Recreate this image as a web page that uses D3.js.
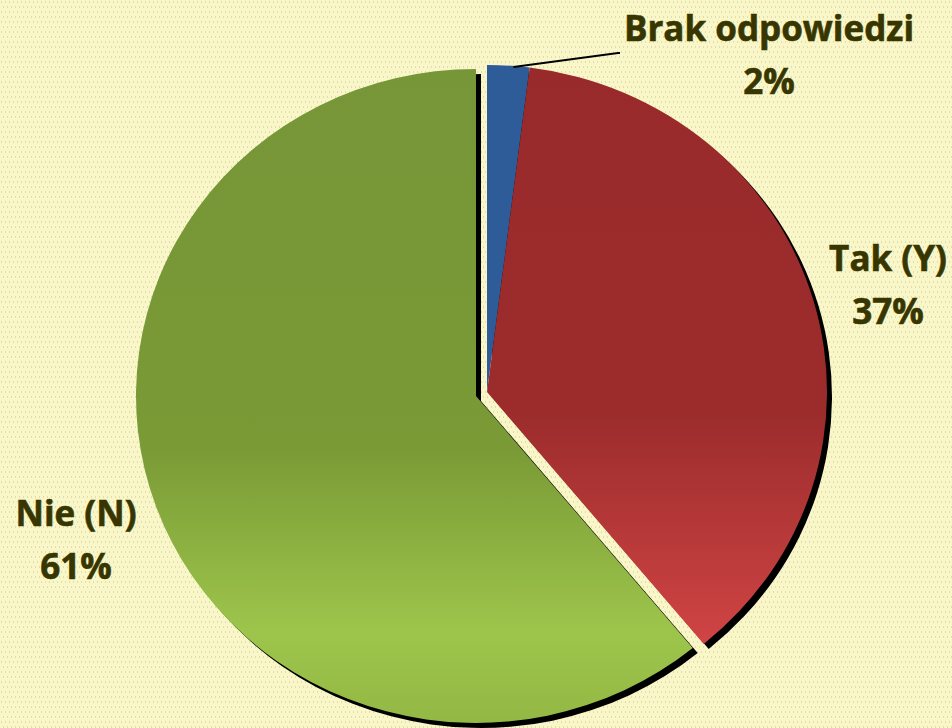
<!DOCTYPE html>
<html>
<head>
<meta charset="utf-8">
<script src="https://cdn.jsdelivr.net/npm/d3@7"></script>
<style>
  html, body { margin: 0; padding: 0; background: #f9f7c9; }
  svg { display: block; }
</style>
</head>
<body>
<svg id="chart" width="952" height="728"></svg>
<script>
// ---- data ----
const categories = ["Brak odpowiedzi", "Tak (Y)", "Nie (N)"];
const values = [2, 37, 61];
const percentLabels = ["2%", "37%", "61%"];
const colors = ["#2d5c99", "url(#gradRed)", "url(#gradGreen)"];

// ---- layout ----
const W = 952, H = 728;
const cx = 487, cy = 392;
const ry = 327, rx = 340;
const explode = [0, 0, 11.7];
const shadowDX = 5, shadowDY = 5;

const svg = d3.select("#chart");
const defs = svg.append("defs");

// background dotted pattern
const pat = defs.append("pattern").attr("id", "dots")
  .attr("width", 8).attr("height", 10).attr("patternUnits", "userSpaceOnUse");
pat.append("rect").attr("width", 8).attr("height", 10).attr("fill", "#f9f7c9");
[[1,1],[5,1],[3,6],[7,6]].forEach(([x,y]) => {
  pat.append("rect").attr("x", x).attr("y", y).attr("width", 1).attr("height", 2).attr("fill", "#e2dfa6");
});
svg.append("rect").attr("width", W).attr("height", H).attr("fill", "url(#dots)");

const gG = defs.append("linearGradient").attr("id", "gradGreen")
  .attr("x1", 0).attr("y1", 0).attr("x2", 0).attr("y2", 1);
[[0,"#769638"],[0.58,"#7a9a36"],[0.86,"#9dc54b"],[1,"#93b844"]].forEach(([o,c]) =>
  gG.append("stop").attr("offset", o).attr("stop-color", c));
const gR = defs.append("linearGradient").attr("id", "gradRed")
  .attr("x1", 0).attr("y1", 0).attr("x2", 0).attr("y2", 1);
[[0,"#992a2b"],[0.6,"#9c2c2c"],[1,"#d04444"]].forEach(([o,c]) =>
  gR.append("stop").attr("offset", o).attr("stop-color", c));

const pie = d3.pie().sort(null).value(d => d);
const arcs = pie(values);
const arc = d3.arc().innerRadius(0).outerRadius(ry);
const sx = rx / ry;

function off(d, i) {
  const a = (d.startAngle + d.endAngle) / 2;
  return [explode[i] * Math.sin(a), -explode[i] * Math.cos(a)];
}

// shadows
svg.append("g").selectAll("path").data(arcs).join("path")
  .attr("d", arc)
  .attr("fill", "#000")
  .attr("transform", (d, i) => {
    const [ox, oy] = off(d, i);
    return `translate(${cx + ox + shadowDX},${cy + oy + shadowDY}) scale(${sx},1)`;
  });

// slices
svg.append("g").selectAll("path").data(arcs).join("path")
  .attr("d", arc)
  .attr("fill", (d, i) => colors[i])
  .attr("transform", (d, i) => {
    const [ox, oy] = off(d, i);
    return `translate(${cx + ox},${cy + oy}) scale(${sx},1)`;
  });

// leader line for small slice
const b = arcs[0];
const bo = off(b, 0);
const la = b.startAngle + (b.endAngle - b.startAngle) * 0.62;
const p0 = [cx + bo[0] + rx * Math.sin(la), cy + bo[1] - ry * Math.cos(la) + 1];
svg.append("path")
  .attr("d", d3.line()([p0, [618, 53], [620, 53]]))
  .attr("fill", "none").attr("stroke", "#000").attr("stroke-width", 2);

// labels
const labelPos = [[769, 41], [888, 271], [76, 526]];
const lineGap = 53;
const lbl = svg.append("g")
  .attr("font-family", "'Open Sans', Lato, sans-serif")
  .attr("font-weight", "bold")
  .attr("font-size", 35)
  .attr("fill", "#383600")
  .attr("stroke", "#383600")
  .attr("stroke-width", 0.6)
  .attr("text-anchor", "middle");
categories.forEach((c, i) => {
  const t = lbl.append("text").attr("x", labelPos[i][0]).attr("y", labelPos[i][1]);
  t.append("tspan").attr("x", labelPos[i][0]).text(c);
  t.append("tspan").attr("x", labelPos[i][0]).attr("dy", lineGap).text(percentLabels[i]);
});
</script>
</body>
</html>
